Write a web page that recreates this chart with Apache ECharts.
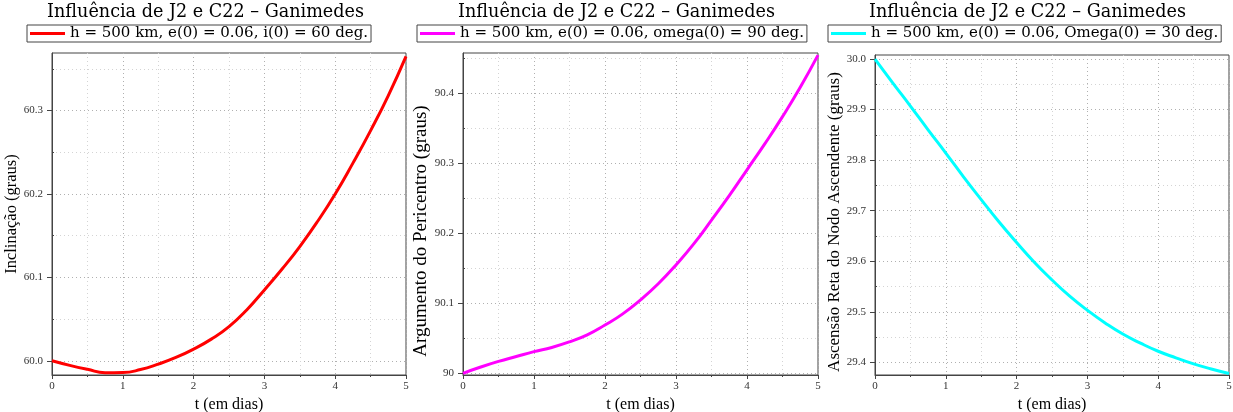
<!DOCTYPE html>
<html>
<head>
<meta charset="utf-8">
<script src="https://cdn.jsdelivr.net/npm/echarts@6/dist/echarts.min.js"></script>
<style>
html, body { margin: 0; padding: 0; background: #fff; }
#main { width: 1233px; height: 412px; }
</style>
</head>
<body>
<div id="main"></div>
<script>
// tempo (dias)
var tempo = [0, 0.25, 0.5, 0.75, 1, 1.25, 1.5, 1.75, 2, 2.25, 2.5, 2.75, 3, 3.25, 3.5, 3.75, 4, 4.25, 4.5, 4.75, 5];

// inclinacao (graus)
var inclinacao = [60.000, 59.9945, 59.9898, 59.9858, 59.9860, 59.9895, 59.996, 60.004, 60.014, 60.026, 60.041,
    60.061, 60.085, 60.110, 60.137, 60.167, 60.200, 60.237, 60.276, 60.318, 60.365];
// argumento do pericentro (graus)
var pericentro = [90.000, 90.009, 90.017, 90.024, 90.031, 90.037, 90.045, 90.055, 90.069, 90.085, 90.105,
    90.128, 90.155, 90.185, 90.219, 90.254, 90.291, 90.328, 90.367, 90.409, 90.455];
// ascensao reta do nodo ascendente (graus)
var nodo = [30.000, 29.953, 29.907, 29.860, 29.814, 29.767, 29.722, 29.678, 29.637, 29.598, 29.563,
    29.531, 29.503, 29.478, 29.456, 29.438, 29.422, 29.409, 29.397, 29.387, 29.378];

var titulo = 'Influência de J2 e C22 – Ganimedes';
var legendas = [
    'h = 500 km, e(0) = 0.06, i(0) = 60 deg.',
    'h = 500 km, e(0) = 0.06, omega(0) = 90 deg.',
    'h = 500 km, e(0) = 0.06, Omega(0) = 30 deg.'
];
var nomesY = ['Inclinação (graus)', 'Argumento do Pericentro (graus)', 'Ascensão Reta do Nodo Ascendente (graus)'];
var nomeX = 't (em dias)';

// rotulos do eixo y
var ticksY1 = [60.0, 60.1, 60.2, 60.3];
var textoY1 = ['60.0', '60.1', '60.2', '60.3'];
var minorY1 = [60.05, 60.15, 60.25, 60.35];
var ticksY2 = [90.0, 90.1, 90.2, 90.3, 90.4];
var textoY2 = ['90', '90.1', '90.2', '90.3', '90.4'];
var minorY2 = [90.05, 90.15, 90.25, 90.35, 90.45];
var ticksY3 = [29.4, 29.5, 29.6, 29.7, 29.8, 29.9, 30.0];
var textoY3 = ['29.4', '29.5', '29.6', '29.7', '29.8', '29.9', '30.0'];
var minorY3 = [29.45, 29.55, 29.65, 29.75, 29.85, 29.95];

var cores = ['#ff0000', '#ff00ff', '#00ffff'];

var paineis = [
    {grid: {left: 52, top: 53, width: 354, height: 322}, min: 59.983, max: 60.369, ticks: ticksY1, texto: textoY1, minor: minorY1,
        dados: inclinacao, centro: 205.5, legLeft: 27, nomeTam: 16.5, nomePad: [0, 0, 0, 0]},
    {grid: {left: 463, top: 53, width: 355, height: 322}, min: 89.9976, max: 90.458, ticks: ticksY2, texto: textoY2, minor: minorY2,
        dados: pericentro, centro: 616.5, legLeft: 417, nomeTam: 19, nomePad: [0, 34, 0, 0]},
    {grid: {left: 875, top: 55, width: 354, height: 320}, min: 29.375, max: 30.008, ticks: ticksY3, texto: textoY3, minor: minorY3,
        dados: nodo, centro: 1027.5, legLeft: 828, nomeTam: 17, nomePad: [0, 14, 0, 0]}
];

var fonteSerif = 'DejaVu Serif';
var fonteTimes = 'Liberation Serif';
var corEixo = '#444';

function rotulo(ticks, texto) {
    return function (v) {
        for (var i = 0; i < ticks.length; i++) {
            if (Math.abs(ticks[i] - v) < 1e-6) return texto[i];
        }
        return '';
    };
}

var option = {
    backgroundColor: '#fff',
    animation: false,
    title: [],
    legend: [],
    grid: [],
    xAxis: [],
    yAxis: [],
    series: []
};

for (var p = 0; p < paineis.length; p++) {
    var pn = paineis[p];
    var g = pn.grid;

    option.title.push({
        text: titulo,
        left: pn.centro,
        top: 3,
        padding: 0,
        textAlign: 'center',
        textStyle: {fontFamily: fonteSerif, fontSize: 17.6, fontWeight: 'normal', color: '#000'}
    });

    option.legend.push({
        data: [legendas[p]],
        left: pn.legLeft,
        top: 25,
        padding: [1, 3, 1, 3],
        borderColor: corEixo,
        borderWidth: 1,
        icon: 'rect',
        itemWidth: 35,
        itemHeight: 3,
        textStyle: {fontFamily: fonteSerif, fontSize: 15, color: '#000'}
    });

    option.grid.push({
        left: g.left, top: g.top, width: g.width, height: g.height,
        outerBoundsMode: 'none',
        show: true, borderColor: corEixo, borderWidth: 1, backgroundColor: 'transparent'
    });

    option.xAxis.push({
        gridIndex: p,
        type: 'value',
        min: 0, max: 5, interval: 1,
        name: nomeX,
        nameLocation: 'middle',
        nameGap: 18,
        nameTextStyle: {fontFamily: fonteTimes, fontSize: 16, color: '#000'},
        axisLine: {show: true, onZero: false, lineStyle: {color: corEixo, width: 1}},
        axisTick: {show: true, length: 4, lineStyle: {color: corEixo}},
        minorTick: {show: true, splitNumber: 2, length: 2, lineStyle: {color: corEixo}},
        axisLabel: {fontFamily: fonteTimes, fontSize: 11, color: '#333', margin: 6},
        splitLine: {show: true, lineStyle: {color: '#b0b0b0', type: [1, 3], width: 1}},
        minorSplitLine: {show: true, lineStyle: {color: '#d4d4d4', type: [1, 3], width: 1}}
    });

    // eixo principal
    option.yAxis.push({
        gridIndex: p,
        type: 'value',
        min: pn.min, max: pn.max,
        name: nomesY[p],
        nameLocation: 'middle',
        nameGap: 28,
        nameTextStyle: {fontFamily: fonteTimes, fontSize: pn.nomeTam, color: '#000', padding: pn.nomePad},
        axisLine: {show: true, onZero: false, lineStyle: {color: corEixo, width: 1}},
        axisTick: {show: true, length: 5, customValues: pn.ticks, lineStyle: {color: corEixo}},
        axisLabel: {customValues: pn.ticks, formatter: rotulo(pn.ticks, pn.texto), fontFamily: fonteTimes, fontSize: 11, color: '#333', margin: 9},
        splitLine: {show: true, lineStyle: {color: '#b0b0b0', type: [1, 3], width: 1}}
    });
    // eixo secundario (divisoes menores)
    option.yAxis.push({
        gridIndex: p,
        type: 'value',
        min: pn.min, max: pn.max,
        axisLine: {show: false},
        axisTick: {show: true, length: 2, customValues: pn.minor, lineStyle: {color: corEixo}},
        axisLabel: {show: false, customValues: pn.minor},
        splitLine: {show: true, lineStyle: {color: '#d4d4d4', type: [1, 3], width: 1}}
    });

    var pts = [];
    for (var i = 0; i < tempo.length; i++) {
        pts.push([tempo[i], pn.dados[i]]);
    }
    option.series.push({
        name: legendas[p],
        type: 'line',
        xAxisIndex: p,
        yAxisIndex: p * 2,
        data: pts,
        smooth: true,
        showSymbol: false,
        clip: false,
        color: cores[p],
        lineStyle: {width: 3, color: cores[p]}
    });
}

var myChart = echarts.init(document.getElementById('main'));
myChart.setOption(option);
</script>
</body>
</html>
